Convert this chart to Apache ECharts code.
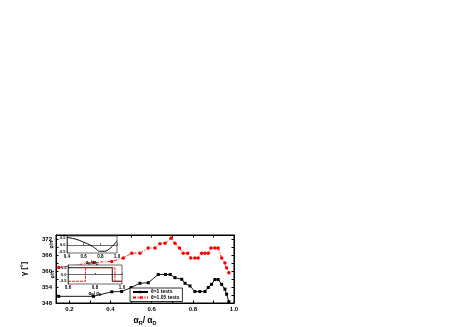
<!DOCTYPE html>
<html><head><meta charset="utf-8">
<script src="https://cdn.jsdelivr.net/npm/echarts@6/dist/echarts.min.js"></script>
<style>html,body{margin:0;padding:0;background:#fff}#c{width:463px;height:327px}</style>
</head><body><div id="c"></div><script>
// ---- data ----
const seriesNames = ['θ=1 tests', 'θ=1.05 tests'];
const xTickLabels = [0.2, 0.4, 0.6, 0.8, 1.0];
const xTickMarks = [0.2, 0.3, 0.4, 0.5, 0.6, 0.7, 0.8, 0.9, 1.0];
const yTickLabels = [348, 354, 360, 366, 372];
const yTickMarks = [348, 351, 354, 357, 360, 363, 366, 369, 372];

const blackX = [0.148, 0.317, 0.406, 0.454, 0.500, 0.543, 0.583, 0.632, 0.667, 0.690, 0.713, 0.746, 0.762, 0.786, 0.810, 0.834, 0.859, 0.875, 0.891, 0.907, 0.923, 0.940, 0.956, 0.964, 0.975];
const blackY = [350.5, 350.5, 352.2, 352.3, 353.8, 355.4, 355.6, 358.7, 358.7, 358.7, 357.5, 356.9, 355.4, 354.4, 352.3, 352.3, 352.3, 353.8, 355.0, 356.8, 356.8, 355.0, 353.2, 351.3, 348.5];

const redX = [0.148, 0.317, 0.406, 0.462, 0.503, 0.543, 0.583, 0.616, 0.640, 0.665, 0.694, 0.713, 0.735, 0.753, 0.775, 0.790, 0.810, 0.826, 0.843, 0.859, 0.875, 0.888, 0.907, 0.923, 0.940, 0.956, 0.964, 0.975];
const redY = [361.3, 363.2, 363.6, 364.9, 366.7, 366.7, 368.6, 368.6, 370.2, 370.4, 372.3, 370.4, 368.6, 366.7, 366.7, 364.9, 364.9, 364.9, 366.7, 366.7, 366.7, 368.6, 368.6, 368.6, 364.9, 363.0, 361.2, 359.3];

// inset (I)
const inset1X = [0.4, 0.502, 0.604, 0.686, 0.747, 0.788, 0.849, 0.910, 0.971, 1.0];
const inset1Y = [0.50, 0.39, 0.17, -0.04, -0.26, -0.43, -0.43, -0.26, 0.07, 0.28];
const inset1XTicks = [0.4, 0.6, 0.8, 1.0];
const insetYTicks = [-0.5, 0.0, 0.5];

// inset (II) step signals
const inset2BlackX = [0.6, 0.928, 0.928, 1.0];
const inset2BlackY = [0.5, 0.5, -0.5, -0.5];
const inset2RedX = [0.6, 0.729, 0.729, 0.948, 0.948, 1.0];
const inset2RedY = [-0.5, -0.5, 0.5, 0.5, -0.5, -0.5];
const inset2XTicks = [0.6, 0.8, 1.0];

const zip = (a, b) => a.map((v, i) => [v, b[i]]);

const FF = 'Liberation Sans, Arial, sans-serif';
const lbl = (size) => ({fontSize: size, fontWeight: 'bold', color: '#000', fontFamily: FF});
const blackLine = {lineStyle: {color: '#000', width: 1}};

const chart = echarts.init(document.getElementById('c'), null, {renderer: 'canvas'});

const option = {
  animation: false,
  backgroundColor: '#fff',
  grid: [
    {left: 56, top: 235, width: 178, height: 70, show: true, borderColor: '#000', borderWidth: 1, backgroundColor: 'transparent'},
    {left: 67, top: 236, width: 50, height: 17, show: true, borderColor: '#444', borderWidth: 0.8, backgroundColor: '#fff', z: 5},
    {left: 68, top: 265, width: 54, height: 19, show: true, borderColor: '#444', borderWidth: 0.8, backgroundColor: '#fff', z: 5}
  ],
  legend: {
    left: 130, top: 288, orient: 'vertical', itemGap: 0.5, itemWidth: 15, itemHeight: 3,
    padding: [1.5, 3, 1.5, 2], borderColor: '#000', borderWidth: 0.8, backgroundColor: '#fff',
    textStyle: Object.assign(lbl(5), {padding: [0, 0, 0, -2]}),
    data: seriesNames, z: 8
  },
  xAxis: [
    {gridIndex: 0, type: 'value', min: 0.135, max: 1.0, position: 'bottom',
     axisLine: blackLine, axisTick: {inside: true, length: 2.5, customValues: xTickMarks, lineStyle: {color: '#000'}},
     axisLabel: Object.assign(lbl(6), {customValues: xTickLabels, margin: 3, formatter: v => v.toFixed(1)}),
     splitLine: {show: false},
     name: '{a|α}{s|R}{a|/ α}{s|D}', nameLocation: 'middle', nameGap: 12,
     nameTextStyle: {rich: {a: lbl(8.5), s: Object.assign(lbl(5.5), {padding: [5, 0, 0, 0]})}}},
    {gridIndex: 0, type: 'value', min: 0.135, max: 1.0, position: 'top',
     axisLine: blackLine, axisTick: {inside: true, length: 2.5, customValues: xTickMarks, lineStyle: {color: '#000'}},
     axisLabel: {show: false}, splitLine: {show: false}},
    {gridIndex: 1, type: 'value', min: 0.4, max: 1.0, z: 6,
     axisLine: {lineStyle: {color: '#444', width: 0.8}}, axisTick: {inside: true, length: 1.5, customValues: inset1XTicks},
     axisLabel: Object.assign(lbl(4.5), {customValues: inset1XTicks, margin: 1.5, formatter: v => v.toFixed(1)}),
     splitLine: {show: false},
     name: '{a|α}{s|R}{a|/ α}{s|D}', nameLocation: 'middle', nameGap: 7,
     nameTextStyle: {rich: {a: lbl(4.5), s: Object.assign(lbl(3.5), {padding: [2, 0, 0, 0]})}}},
    {gridIndex: 2, type: 'value', min: 0.6, max: 1.0, z: 6,
     axisLine: {lineStyle: {color: '#444', width: 0.8}}, axisTick: {inside: true, length: 1.5, customValues: inset2XTicks},
     axisLabel: Object.assign(lbl(4.5), {customValues: inset2XTicks, margin: 1.5, formatter: v => v.toFixed(1)}),
     splitLine: {show: false},
     name: '{a|α}{s|R}{a|/ α}{s|D}', nameLocation: 'middle', nameGap: 7,
     nameTextStyle: {rich: {a: lbl(4.5), s: Object.assign(lbl(3.5), {padding: [2, 0, 0, 0]})}}}
  ],
  yAxis: [
    {gridIndex: 0, type: 'value', min: 348, max: 373.5, position: 'left',
     axisLine: Object.assign({show: true}, blackLine), axisTick: {show: true, inside: true, length: 2.5, customValues: yTickMarks, lineStyle: {color: '#000'}},
     axisLabel: Object.assign(lbl(6), {customValues: yTickLabels, margin: 4}),
     splitLine: {show: false},
     name: 'γ [°]', nameLocation: 'middle', nameRotate: 90, nameGap: 28, nameTextStyle: lbl(7.5)},
    {gridIndex: 0, type: 'value', min: 348, max: 373.5, position: 'right',
     axisLine: Object.assign({show: true}, blackLine), axisTick: {show: true, inside: true, length: 2.5, customValues: yTickMarks, lineStyle: {color: '#000'}},
     axisLabel: {show: false}, splitLine: {show: false}},
    {gridIndex: 1, type: 'value', min: -0.55, max: 0.6, z: 6,
     axisLine: {show: true, lineStyle: {color: '#444', width: 0.8}}, axisTick: {show: true, inside: true, length: 1.5, customValues: insetYTicks},
     axisLabel: Object.assign(lbl(4), {customValues: insetYTicks, margin: 1.5, formatter: v => v.toFixed(1)}),
     splitLine: {show: false},
     name: 'φ/π', nameLocation: 'middle', nameRotate: 90, nameGap: 10, nameTextStyle: lbl(4.5)},
    {gridIndex: 2, type: 'value', min: -0.7, max: 0.7, z: 6,
     axisLine: {show: true, lineStyle: {color: '#444', width: 0.8}}, axisTick: {show: true, inside: true, length: 1.5, customValues: insetYTicks},
     axisLabel: Object.assign(lbl(4), {customValues: insetYTicks, margin: 1.5, formatter: v => v.toFixed(1)}),
     splitLine: {show: false},
     name: 'φ/π', nameLocation: 'middle', nameRotate: 90, nameGap: 10, nameTextStyle: lbl(4.5)}
  ],
  series: [
    {name: seriesNames[0], type: 'line', xAxisIndex: 0, yAxisIndex: 0, data: zip(blackX, blackY),
     symbol: 'rect', symbolSize: 3, itemStyle: {color: '#000'}, lineStyle: {color: '#000', width: 0.9}, z: 2},
    {name: seriesNames[1], type: 'line', xAxisIndex: 0, yAxisIndex: 0, data: zip(redX, redY),
     symbol: 'circle', symbolSize: 3.5, itemStyle: {color: '#ff0000'}, lineStyle: {color: '#ff0000', width: 0.9, type: [3, 1.5, 1, 1.5]}, z: 2},
    {type: 'line', xAxisIndex: 2, yAxisIndex: 2, data: zip(inset1X, inset1Y), smooth: true, symbol: 'none',
     lineStyle: {color: '#000', width: 1}, z: 7},
    {type: 'line', xAxisIndex: 3, yAxisIndex: 3, data: zip(inset2BlackX, inset2BlackY), symbol: 'none',
     lineStyle: {color: '#000', width: 0.9}, z: 7},
    {type: 'line', xAxisIndex: 3, yAxisIndex: 3, data: zip(inset2RedX, inset2RedY), symbol: 'none',
     lineStyle: {color: '#ff0000', width: 0.9, type: [3, 1]}, z: 7}
  ],
  graphic: [
    {type: 'group', left: 75, top: 245, z: 20, children: [
      {type: 'rect', shape: {x: 0, y: 0, width: 9, height: 6}, style: {fill: '#fff', stroke: '#000', lineWidth: 0.6}},
      {type: 'text', x: 4.5, y: 3, style: {text: '(I)', fontSize: 4.5, fontWeight: 'bold', fontFamily: FF, fill: '#000', align: 'center', verticalAlign: 'middle'}}
    ]},
    {type: 'group', left: 89, top: 270, z: 20, children: [
      {type: 'rect', shape: {x: 0, y: 0, width: 10, height: 6}, style: {fill: '#fff', stroke: '#000', lineWidth: 0.6}},
      {type: 'text', x: 5, y: 3, style: {text: '(II)', fontSize: 4.5, fontWeight: 'bold', fontFamily: FF, fill: '#000', align: 'center', verticalAlign: 'middle'}}
    ]}
  ]
};
chart.setOption(option);
</script></body></html>
